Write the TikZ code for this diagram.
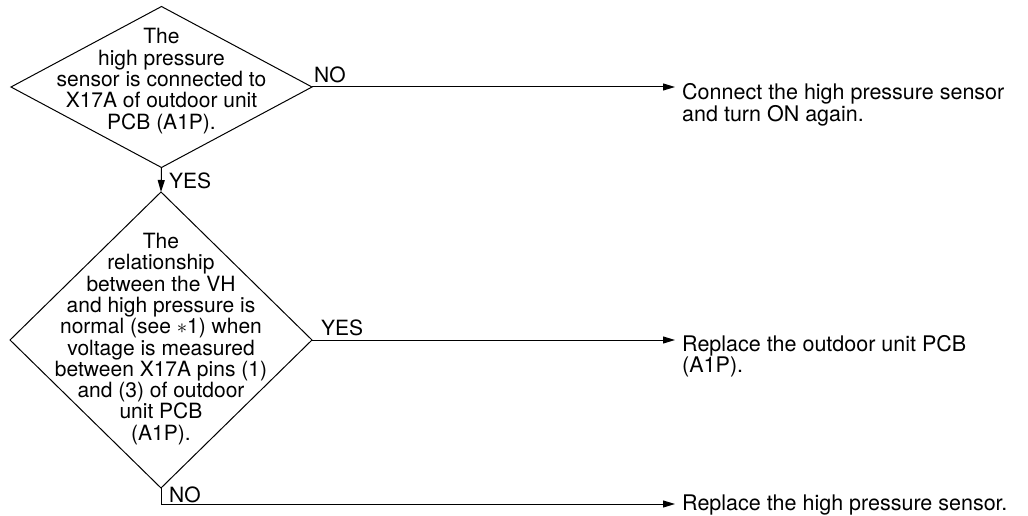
\documentclass[tikz,border=0pt]{standalone}
\usepackage{fontspec}
\setmainfont{TeX Gyre Heros}
\usetikzlibrary{shapes.geometric,arrows.meta}
\begin{document}
\begin{tikzpicture}[x=1pt,y=-1pt,
  decision/.style={diamond,draw,line width=1pt,inner sep=0pt,outer sep=0pt},
  qtext/.style={align=center,inner sep=0pt,font=\fontsize{21}{21.3}\selectfont},
  atext/.style={align=left,inner sep=0pt,anchor=north west,font=\fontsize{21.5}{19}\selectfont},
  lbl/.style={inner sep=0pt,anchor=base west,font=\fontsize{21}{21}\selectfont},
  flow/.style={line width=1pt,-{Triangle[length=12pt,width=7pt]}}]
\useasboundingbox (0,0) rectangle (1028,516);
% decisions
\node[decision,minimum width=301pt,minimum height=161pt] (d1) at (161.5,87) {};
\node[qtext] (q1) at (161.5,81) {The\\high pressure\\sensor is connected to\\X17A of outdoor unit\\PCB (A1P).};
\node[decision,minimum width=302pt,minimum height=296pt] (d2) at (161,340) {};
\node[qtext] (q2) at (161,339) {The\\relationship\\between the VH\\and high pressure is\\normal (see $\ast$1) when\\voltage is measured\\between X17A pins (1)\\and (3) of outdoor\\unit PCB\\(A1P).};
% actions
\node[atext] (a1) at (682,83) {Connect the high pressure sensor\\and turn ON again.};
\node[atext] (a2) at (682,335) {Replace the outdoor unit PCB\\(A1P).};
\node[atext] (a3) at (682,495) {Replace the high pressure sensor.};
% arrow ends
\coordinate (e1) at (675,87);
\coordinate (e2) at (675,340);
\coordinate (e3) at (675,504);
% connectors
\draw[flow] (d1.east) -- (e1);
\draw[flow] (d1.south) -- (d2.north);
\draw[flow] (d2.east) -- (e2);
\draw[flow] (d2.south) |- (e3);
% labels
\node[lbl] (l1) at (314,83) {NO};
\node[lbl] (l2) at (169,188) {YES};
\node[lbl] (l3) at (321,335) {YES};
\node[lbl] (l4) at (169,502) {NO};
\end{tikzpicture}
\end{document}
